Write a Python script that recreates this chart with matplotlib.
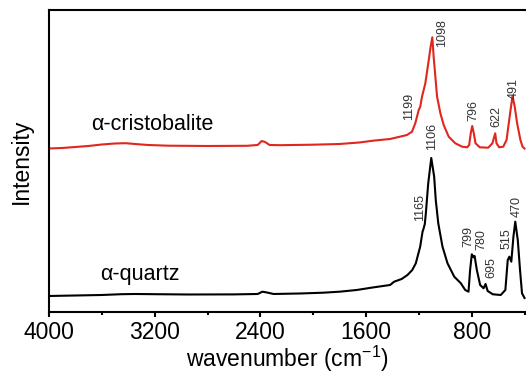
import matplotlib
matplotlib.use("Agg")
import matplotlib.pyplot as plt
from matplotlib.ticker import MultipleLocator

plt.rcParams['font.family'] = ['Liberation Sans', 'DejaVu Sans']
plt.rcParams['mathtext.fontset'] = 'custom'
plt.rcParams['mathtext.rm'] = 'Liberation Sans'
plt.rcParams['mathtext.default'] = 'regular'

# alpha-cristobalite spectrum (red)
red_w = [4000, 3900, 3800, 3700, 3600, 3500, 3420, 3350, 3250, 3100, 2800, 2500,
         2420, 2390, 2365, 2330, 2250, 2000, 1800, 1650, 1547, 1418, 1343, 1290,
         1252, 1227, 1201, 1190, 1176, 1151, 1125, 1110, 1098, 1088, 1075, 1062,
         1037, 1012, 974, 924, 873, 835, 819, 807, 796, 784, 771, 739, 675, 643,
         622, 612, 592, 561, 536, 516, 491, 474, 456, 431, 415, 400]
red_i = [163.5, 164, 165, 166, 167.5, 168.5, 168.8, 168, 167, 166.3, 166, 166.2,
         167, 171, 170, 167, 166.8, 167.3, 168, 169.5, 171.3, 173, 175.3, 177,
         180.3, 188.7, 202, 205, 215.3, 228.7, 252, 266, 274.7, 255.3, 235.3, 215.3,
         198.7, 187, 175.3, 168.7, 165.3, 164.7, 167, 178.7, 186, 178.7, 168.7, 164.7, 164.3, 168.7,
         178.7, 168.7, 164.7, 165.3, 172, 192, 216, 205.3, 188.7, 172, 165.3, 163.5]

# alpha-quartz spectrum (black)
blk_w = [4000, 3800, 3600, 3450, 3350, 3200, 2950, 2600, 2420, 2385, 2350, 2300,
         2100, 1923, 1800, 1670, 1550, 1418, 1387, 1330, 1286, 1250, 1223, 1190,
         1172, 1165, 1155, 1147, 1129, 1106, 1084, 1072, 1053, 1021, 983, 932,
         882, 849, 824, 812, 799, 786, 778, 761, 736, 710, 695, 679, 640, 580,
         545, 527, 515, 500, 484, 470, 451, 434, 419, 400]
blk_i = [16, 16.5, 17, 17.8, 18, 17.8, 17.5, 17.6, 18, 20.3, 19.5, 18,
         18.5, 19.3, 20.3, 22, 24.5, 27, 30.3, 33, 37, 42, 48.7, 65.3,
         80.3, 83, 88, 98.7, 128.7, 154, 135.3, 112, 88.7, 65.3, 48.7, 35.3,
         28.7, 22, 20.3, 42, 57.7, 54.7, 56, 42, 27, 23.7, 28, 21, 17.7, 17,
         22, 52, 55.3, 50.3, 75.3, 90.3, 72, 42, 18.7, 14]

# peak labels: text, x, y
red_peaks = ['1098', '1199', '796', '622', '491']
red_peak_x = [1027, 1272, 788, 610, 485]
red_peak_y = [279, 206, 201, 195, 223]
blk_peaks = ['1106', '1165', '799', '780', '695', '515', '470']
blk_peak_x = [1103, 1191, 825, 724, 648, 535, 459]
blk_peak_y = [176, 104, 75.3, 72, 44.5, 73.7, 105.3]

fig = plt.figure(figsize=(5.26, 3.74), dpi=100)
ax = fig.add_axes([0.0932, 0.1658, 0.9542, 0.8075])

ax.plot(red_w, red_i, color='#e0261f', lw=1.5)
ax.plot(blk_w, blk_i, color='black', lw=1.5)

for t, x, y in zip(red_peaks, red_peak_x, red_peak_y):
    ax.text(x, y, t, rotation=90, ha='center', va='center', fontsize=9, color='#333333')
for t, x, y in zip(blk_peaks, blk_peak_x, blk_peak_y):
    ax.text(x, y, t, rotation=90, ha='center', va='center', fontsize=9, color='#333333')

ax.text(3682, 187, 'α-cristobalite', ha='left', va='center', fontsize=15.5)
ax.text(3614, 37, 'α-quartz', ha='left', va='center', fontsize=15.5)

ax.set_xlim(4000, 200)
ax.set_ylim(0, 302)
ax.xaxis.set_major_locator(MultipleLocator(800))
ax.xaxis.set_minor_locator(MultipleLocator(400))
ax.set_yticks([])
ax.tick_params(axis='x', which='major', direction='out', length=3.8, width=1.5, labelsize=16.5, pad=2.5)
ax.tick_params(axis='x', which='minor', direction='out', length=2, width=1.5)
for s in ax.spines.values():
    s.set_linewidth(1.5)

ax.set_xlabel('wavenumber (cm$^{-1}$)', fontsize=16.5)
ax.xaxis.set_label_coords(0.475, -0.105)
ax.set_ylabel('Intensity', fontsize=16.5)
ax.yaxis.set_label_coords(-0.032, 0.5)

fig.savefig('out.png', dpi=100)
